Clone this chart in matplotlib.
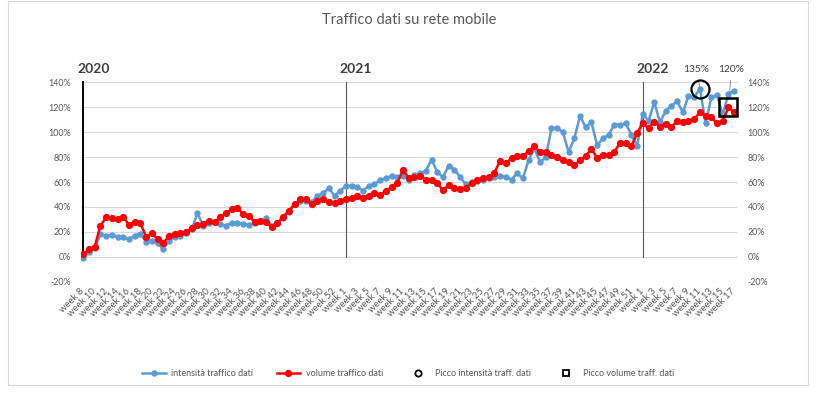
import matplotlib
matplotlib.use("Agg")
import matplotlib.pyplot as plt
from matplotlib.lines import Line2D
from matplotlib.patches import Rectangle

plt.rcParams['font.family'] = ['Lato', 'DejaVu Sans']

# ---------------- data ----------------
weeks_2020 = list(range(8, 54))
weeks_2021 = list(range(1, 53))
weeks_2022 = list(range(1, 18))
week_labels = [f"week {w}" for w in weeks_2020 + weeks_2021 + weeks_2022]

intensita = [
    -1, 4, 7, 18, 17, 17.5, 16, 15.5, 14, 17,
    18.5, 12, 13, 11, 6, 13, 16, 17, 19, 22,
    35, 25, 27, 28, 26, 25, 27, 27, 26, 25.5,
    27, 29, 31, 25, 27, 31, 36, 42, 45, 45,
    44, 49, 51, 55, 49, 53, 57, 57, 56, 53,
    57, 58, 62, 63, 65, 64, 65, 62, 66, 67,
    69, 78, 68, 64, 73, 70, 64, 58, 60, 61,
    61.5, 63, 64, 65, 64, 62, 67, 63, 77.5, 87,
    76, 80, 103, 103.5, 100, 84, 95, 113, 104, 108,
    89.5, 95, 98, 106, 106, 107, 98, 89, 115, 109,
    124, 108, 117, 121, 125, 116, 129, 128, 135, 107,
    128, 130, 114, 131, 133,
]
volume = [
    2, 6, 8, 25, 31.5, 31, 30, 32, 25.5, 28,
    27, 16, 19, 14, 11, 16.5, 18, 19, 20, 23,
    25.5, 26, 29, 28, 31.5, 35, 38, 39.5, 34, 32.5,
    28, 29, 27.5, 24, 27, 32, 37, 42, 46, 46,
    42, 45, 46, 44, 43, 45, 46.5, 47, 49, 47.5,
    49, 51, 49.5, 53, 56, 59, 70, 63, 64, 65,
    62, 61.5, 59, 53.5, 57.5, 55, 54, 55.5, 59, 61.5,
    63.5, 64, 67.5, 77, 75, 79, 80.5, 80.5, 85, 89,
    84, 84, 82, 80, 78, 76, 73.5, 77.5, 81, 86.5,
    79.5, 82, 82, 84, 91.5, 91, 89, 99, 107.5, 103,
    108.5, 104.5, 106.5, 104, 109, 108, 109, 110.5, 116, 113,
    112, 107, 109, 120, 116,
]
picco_intensita_idx = [108]
picco_intensita_val = [135]
picco_volume_idx = [113]
picco_volume_val = [120]
year_labels = ["2020", "2021", "2022"]
year_start_idx = [0, 46, 98]
y_ticks = [-20, 0, 20, 40, 60, 80, 100, 120, 140]

BLUE = "#5B9BD5"
RED = "#FF0000"
GRAY = "#595959"

W, H = 817, 395
fig = plt.figure(figsize=(W / 100, H / 100), dpi=100)
fig.patch.set_facecolor("white")
fig.patches.append(Rectangle((8 / W, 1 - 385 / H), 800 / W, 384 / H,
                             transform=fig.transFigure, fill=False,
                             edgecolor="#D9D9D9", lw=0.8))

left, right, top, bottom = 81, 738, 82.4, 281.6
ax = fig.add_axes([left / W, 1 - bottom / H, (right - left) / W, (bottom - top) / H])
x = list(range(len(intensita)))
ax.set_xlim(-0.4, 114.67)
ax.set_ylim(-20, 140)

for yv in y_ticks:
    ax.axhline(yv, color="#D9D9D9", lw=0.8, zorder=0)

for k, (lab, idx) in enumerate(zip(year_labels, year_start_idx)):
    if k == 0:
        ax.plot([idx, idx], [0, 140], color="black", lw=1.4, zorder=1, clip_on=False)
    else:
        ax.plot([idx, idx], [0, 140], color="#595959", lw=0.8, zorder=1, clip_on=False)
    ax.annotate(lab, xy=(idx, 140), xytext=(-4.5, 10), textcoords="offset points",
                ha="left", va="center", fontsize=10, fontweight="bold",
                color="#404040", annotation_clip=False)

ax.plot(x, intensita, color=BLUE, lw=1.8, marker="o", markersize=3.6, zorder=3)
ax.plot(x, volume, color=RED, lw=1.8, marker="o", markersize=4.2, zorder=4)
ax.plot(picco_intensita_idx, picco_intensita_val, linestyle="none", marker="o",
        markersize=13, markerfacecolor="none", markeredgecolor="black",
        markeredgewidth=1.6, zorder=5, clip_on=False)
ax.plot(picco_volume_idx, picco_volume_val, linestyle="none", marker="s",
        markersize=13, markerfacecolor="none", markeredgecolor="black",
        markeredgewidth=1.8, zorder=5, clip_on=False)

ax.annotate(f"{picco_intensita_val[0]}%", xy=(picco_intensita_idx[0], picco_intensita_val[0]),
            xytext=(-2.5, 14), textcoords="offset points", ha="center", va="center",
            fontsize=7.3, color="#404040", annotation_clip=False,
            arrowprops=dict(arrowstyle="-", color="#7F7F7F", lw=0.6, shrinkA=3, shrinkB=6))
ax.annotate(f"{picco_volume_val[0]}%", xy=(picco_volume_idx[0], picco_volume_val[0]),
            xytext=(2.2, 27.5), textcoords="offset points", ha="center", va="center",
            fontsize=7.3, color="#404040", annotation_clip=False,
            arrowprops=dict(arrowstyle="-", color="#7F7F7F", lw=0.6, shrinkA=3, shrinkB=6))

for s in ax.spines.values():
    s.set_visible(False)

ax.set_yticks(y_ticks)
ax.set_yticklabels([f"{v}%" for v in y_ticks], fontsize=6.4, color=GRAY)
ax.tick_params(axis="y", length=0, pad=7)
ax.set_xticks(x[::2])
ax.set_xticklabels(week_labels[::2], rotation=45, ha="right", va="center",
                   rotation_mode="anchor", fontsize=6.9, color=GRAY)
ax.tick_params(axis="x", length=0, pad=6)

ax2 = ax.twinx()
ax2.set_ylim(ax.get_ylim())
ax2.set_yticks(y_ticks)
ax2.set_yticklabels([f"{v}%" for v in y_ticks], fontsize=6.4, color=GRAY)
ax2.tick_params(axis="y", length=0, pad=7)
for s in ax2.spines.values():
    s.set_visible(False)

fig.text(0.501, 1 - 20 / H, "Traffico dati su rete mobile", ha="center", va="center",
         fontsize=10.5, color=GRAY)

handles = [
    Line2D([], [], color=BLUE, lw=1.8, marker="o", markersize=3.6),
    Line2D([], [], color=RED, lw=1.8, marker="o", markersize=4.2),
    Line2D([], [], linestyle="none", marker="o", markersize=4.5, markerfacecolor="none",
           markeredgecolor="black", markeredgewidth=1.3),
    Line2D([], [], linestyle="none", marker="s", markersize=4.5, markerfacecolor="none",
           markeredgecolor="black", markeredgewidth=1.3),
]
labels = ["intensità traffico dati", "volume traffico dati",
          "Picco intensità traff. dati", "Picco volume traff. dati"]
fig.legend(handles, labels, loc="center", bbox_to_anchor=(0.5, 1 - 374 / H), ncol=4,
           frameon=False, fontsize=6.5, labelcolor=GRAY, columnspacing=2.6,
           handlelength=2.6, handletextpad=0.6)

fig.savefig("out.png", dpi=100)
